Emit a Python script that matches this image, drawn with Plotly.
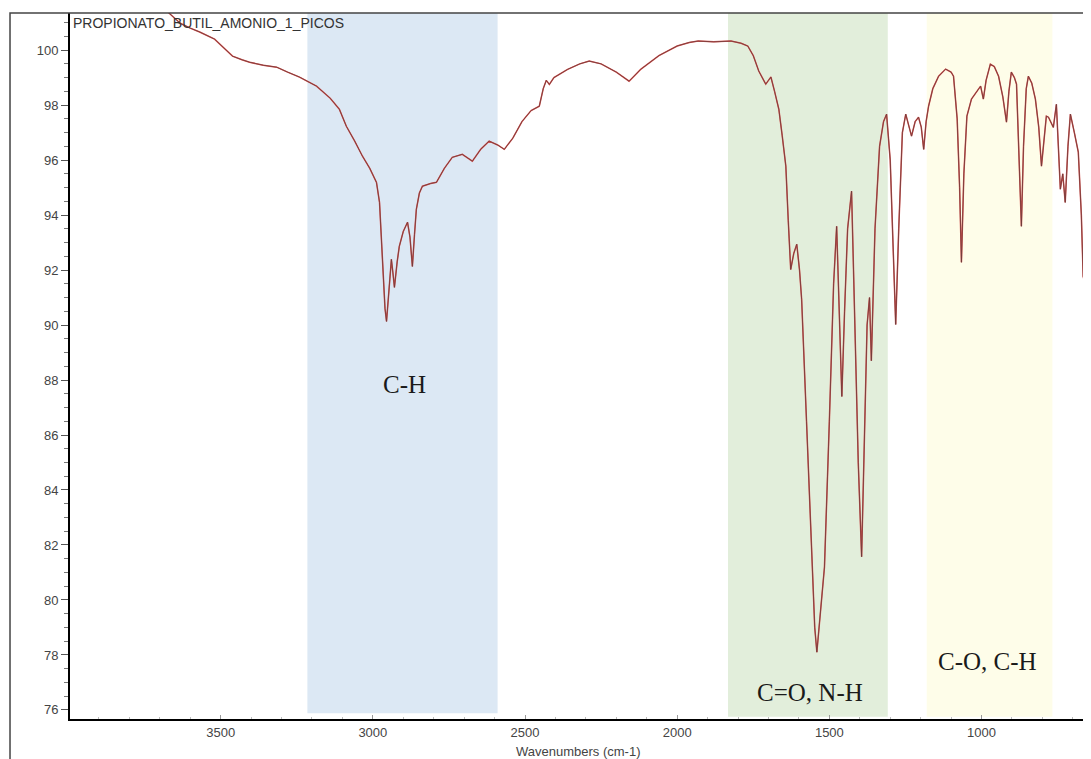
import plotly.graph_objects as go

# ---- data ----
wavenumber = [3990, 3680, 3640, 3628, 3600, 3569, 3520, 3490, 3461, 3430, 3405, 3360, 3316, 3280, 3241,
              3185, 3140, 3110, 3087, 3060, 3034, 3010, 2988, 2978, 2969, 2960, 2955, 2948, 2939, 2934,
              2929, 2920, 2913, 2900, 2886, 2878, 2870, 2863, 2857, 2847, 2837, 2810, 2791, 2765, 2739,
              2706, 2685, 2673, 2645, 2618, 2590, 2568, 2540, 2510, 2480, 2453, 2440, 2430, 2420, 2405,
              2360, 2320, 2289, 2250, 2200, 2158, 2120, 2060, 2000, 1960, 1931, 1880, 1823, 1790, 1768,
              1750, 1732, 1715, 1709, 1700, 1692, 1680, 1666, 1655, 1643, 1635, 1627, 1617, 1607, 1598,
              1591, 1575, 1560, 1548, 1541, 1530, 1516, 1500, 1486, 1476, 1468, 1459, 1450, 1440, 1427,
              1418, 1405, 1394, 1385, 1376, 1368, 1362, 1350, 1335, 1322, 1312, 1300, 1290, 1282, 1272,
              1260, 1249, 1240, 1230, 1218, 1207, 1198, 1190, 1182, 1174, 1160, 1141, 1118, 1100, 1092,
              1080, 1072, 1066, 1058, 1048, 1033, 1015, 1003, 994, 985, 971, 958, 944, 930, 918,
              910, 902, 892, 885, 877, 869, 862, 853, 846, 835, 823, 812, 803, 794, 787,
              780, 770, 764, 754, 748, 741, 733, 725, 716, 708, 695, 682, 672, 666, 660]
transmittance = [102.0, 101.45, 101.05, 100.95, 100.8, 100.66, 100.40, 100.1, 99.78, 99.65, 99.56, 99.45, 99.38, 99.2, 99.02,
                 98.69, 98.25, 97.85, 97.23, 96.7, 96.14, 95.7, 95.19, 94.46, 92.75, 90.6, 90.13, 91.2, 92.39, 91.9,
                 91.37, 92.3, 92.86, 93.4, 93.74, 93.2, 92.13, 93.3, 94.21, 94.8, 95.05, 95.15, 95.19, 95.7, 96.10,
                 96.21, 96.05, 95.96, 96.4, 96.69, 96.55, 96.39, 96.8, 97.4, 97.8, 97.96, 98.6, 98.9, 98.75, 99.0,
                 99.3, 99.5, 99.6, 99.5, 99.2, 98.87, 99.3, 99.8, 100.15, 100.28, 100.33, 100.3, 100.33, 100.25, 100.15,
                 99.8, 99.24, 98.85, 98.76, 98.9, 99.02, 98.5, 97.85, 96.9, 95.78, 93.8, 92.02, 92.6, 92.94, 92.0,
                 90.93, 86.5, 82.0, 79.0, 78.1, 79.5, 81.2, 86.5, 91.5, 93.59, 91.0, 87.4, 90.5, 93.5, 94.87,
                 91.0, 85.0, 81.57, 86.0, 90.0, 91.0, 88.7, 93.5, 96.5, 97.4, 97.67, 96.0, 92.5, 90.02, 93.5,
                 97.0, 97.67, 97.3, 96.87, 97.4, 97.56, 97.2, 96.39, 97.4, 97.96, 98.6, 99.05, 99.31, 99.2, 99.05,
                 97.5, 95.0, 92.28, 95.5, 97.6, 98.22, 98.5, 98.69, 98.22, 98.9, 99.49, 99.4, 99.05, 98.3, 97.38,
                 98.5, 99.2, 99.0, 98.76, 96.5, 93.59, 96.5, 98.6, 99.05, 98.8, 98.22, 97.2, 95.78, 96.8, 97.6,
                 97.56, 97.3, 97.19, 98.03, 96.5, 94.94, 95.5, 94.46, 96.5, 97.67, 97.0, 96.29, 94.0, 91.77, 91.5]

band_labels = ["C-H", "C=O, N-H", "C-O, C-H"]
band_start = [3215, 1833, 1180]
band_end = [2590, 1308, 767]
band_label_x = [2896, 1562, 980]
band_label_y = [87.84, 76.62, 77.75]

x_ticks = [3500, 3000, 2500, 2000, 1500, 1000]
y_ticks = [76, 78, 80, 82, 84, 86, 88, 90, 92, 94, 96, 98, 100]

spectrum_name = "PROPIONATO_BUTIL_AMONIO_1_PICOS"
x_title = "Wavenumbers (cm-1)"

# ---- styles ----
band_colors = ["#dce8f4", "#e2eedb", "#fefde9"]
band_bottoms = [75.88, 75.75, 75.75]
x_range = [3995, 660]
y_range = [75.67, 101.35]

fig = go.Figure()

fig.add_trace(go.Scatter(x=wavenumber, y=transmittance, mode="lines",
                         line=dict(color="#d9534f", width=1.5), hoverinfo="skip", showlegend=False))
fig.add_trace(go.Scatter(x=wavenumber, y=transmittance, mode="lines",
                         line=dict(color="#6a3a3a", width=0.8), showlegend=False))

shapes = []
for s, e, c, b in zip(band_start, band_end, band_colors, band_bottoms):
    shapes.append(dict(type="rect", xref="x", yref="y", x0=s, x1=e, y0=b, y1=y_range[1],
                       fillcolor=c, line=dict(width=0), layer="below"))
# outer frame
shapes.append(dict(type="rect", xref="paper", yref="paper", x0=-0.0591, x1=1.0, y0=-0.08, y1=1.0,
                   line=dict(color="#444444", width=1.5), fillcolor="rgba(0,0,0,0)", layer="above"))

annotations = []
for t, x, y in zip(band_labels, band_label_x, band_label_y):
    annotations.append(dict(x=x, y=y, xref="x", yref="y", text=t, showarrow=False,
                            font=dict(family="Liberation Serif, Times New Roman", size=25, color="#1a1a1a")))
annotations.append(dict(x=0.5005, y=-0.0467, xref="paper", yref="paper", text=x_title, showarrow=False,
                        yanchor="middle", font=dict(family="Liberation Sans, Arial", size=13, color="#444444")))
# spectrum name just under the top frame
annotations.append(dict(x=0.002, y=0.999, xref="paper", yref="paper", text=spectrum_name, showarrow=False,
                        xanchor="left", yanchor="top", borderpad=0,
                        font=dict(family="Liberation Sans, Arial", size=14, color="#333333")))

# the page body adds an 8px offset, so the figure is 8px smaller and margins compensate
fig.update_layout(
    width=1083, height=751,
    margin=dict(l=62, r=6, t=5, b=40),
    paper_bgcolor="white", plot_bgcolor="white",
    shapes=shapes, annotations=annotations,
    showlegend=False,
    xaxis=dict(range=x_range, tickvals=x_ticks, showgrid=False, zeroline=False,
               showline=True, linecolor="black", linewidth=2,
               ticks="inside", ticklen=4, tickcolor="#999999",
               minor=dict(dtick=100, ticks="inside", ticklen=2, tickcolor="#bbbbbb"),
               tickfont=dict(family="Liberation Sans, Arial", size=13, color="#444444")),
    yaxis=dict(range=y_range, tickvals=y_ticks, showgrid=False, zeroline=False,
               showline=True, linecolor="black", linewidth=2,
               ticks="outside", ticklen=7, tickcolor="#555555",
               minor=dict(dtick=0.5, ticks="outside", ticklen=4, tickcolor="#777777"),
               tickfont=dict(family="Liberation Sans, Arial", size=13, color="#444444")),
)

fig.write_html("out.html")
